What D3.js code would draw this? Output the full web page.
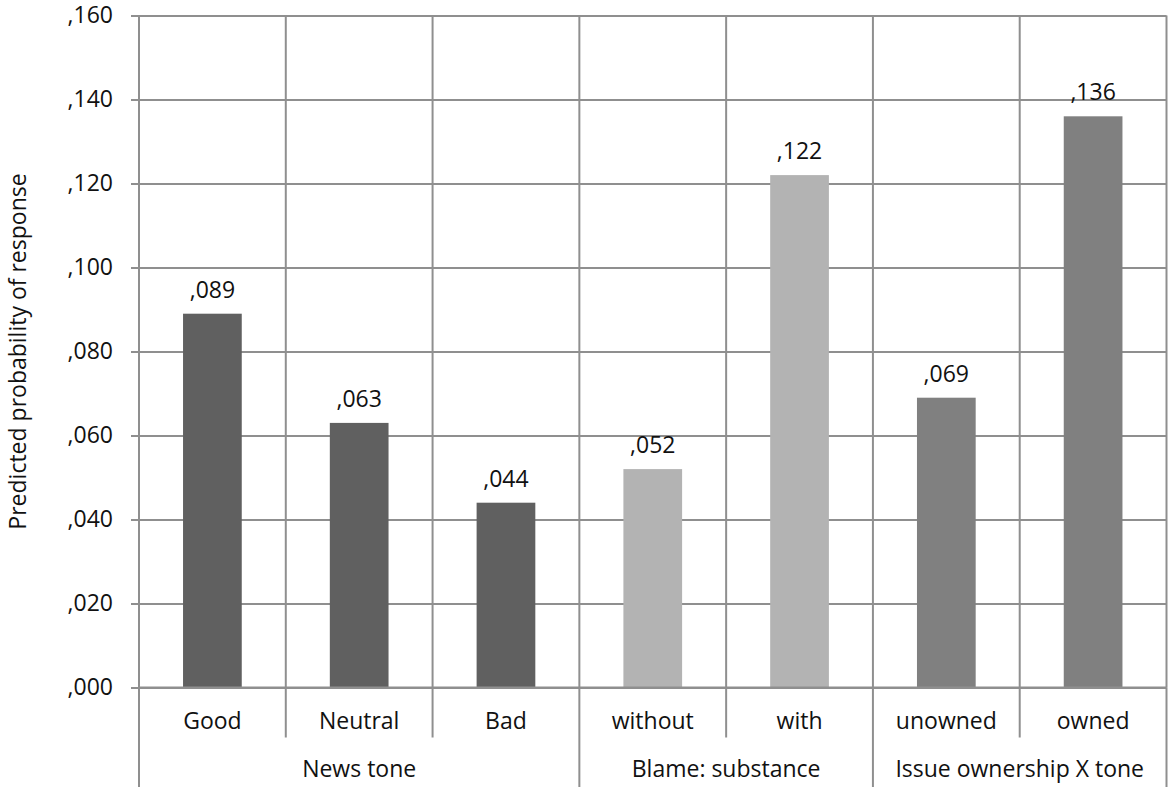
<!DOCTYPE html>
<html>
<head>
<meta charset="utf-8">
<script src="https://cdn.jsdelivr.net/npm/d3@7"></script>
<style>
  html, body { margin: 0; padding: 0; background: #fff; }
  svg { display: block; }
  text { font-family: "Open Sans", "Lato", "DejaVu Sans", sans-serif; fill: #111; }
</style>
</head>
<body>
<svg id="chart" width="1169" height="787"></svg>
<script>
// Predicted probability of response by condition
const categories = ["Good", "Neutral", "Bad", "without", "with", "unowned", "owned"];
const values = [0.089, 0.063, 0.044, 0.052, 0.122, 0.069, 0.136];
const labels = [",089", ",063", ",044", ",052", ",122", ",069", ",136"];
const groupOf = ["News tone", "News tone", "News tone", "Blame: substance", "Blame: substance", "Issue ownership X tone", "Issue ownership X tone"];
const groups = ["News tone", "Blame: substance", "Issue ownership X tone"];
const groupColors = ["#606060", "#b3b3b3", "#808080"];
const yTicks = [0, 0.02, 0.04, 0.06, 0.08, 0.10, 0.12, 0.14, 0.16];
const yTickLabels = [",000", ",020", ",040", ",060", ",080", ",100", ",120", ",140", ",160"];
const yTitle = "Predicted probability of response";

const W = 1169, H = 787;
const m = { left: 139, right: 2.5, top: 15.5, bottom: 99.5 };
const lineColor = "#8f8f8f";
const fs = 23;
const svg = d3.select("#chart");

const x = d3.scaleBand().domain(categories).range([m.left, W - m.right]).paddingInner(0).paddingOuter(0);
const y = d3.scaleLinear().domain([0, 0.16]).range([H - m.bottom, m.top]);
const color = d3.scaleOrdinal().domain(groups).range(groupColors);

// horizontal gridlines with left ticks
const yAxis = d3.axisLeft(y).tickValues(yTicks)
  .tickFormat((d, i) => yTickLabels[i])
  .tickSize(-(W - m.right - m.left)).tickPadding(26);
const gy = svg.append("g").attr("transform", `translate(${m.left},0)`).call(yAxis);
gy.select(".domain").remove();
gy.selectAll(".tick line").attr("stroke", lineColor).attr("stroke-width", 2).attr("x1", -8);
gy.selectAll(".tick text").attr("font-size", fs).style("fill", "#111");
gy.attr("font-family", null);

// vertical gridlines at category boundaries
const bounds = categories.map(c => x(c)).concat([W - m.right]);
svg.append("g").selectAll("line").data(bounds).join("line")
  .attr("x1", d => d).attr("x2", d => d)
  .attr("y1", m.top).attr("y2", y(0))
  .attr("stroke", lineColor).attr("stroke-width", 2);

// bars
const bw = x.bandwidth() * 0.4;
svg.append("g").selectAll("rect").data(values).join("rect")
  .attr("x", (d, i) => x(categories[i]) + (x.bandwidth() - bw) / 2)
  .attr("width", bw)
  .attr("y", d => y(d))
  .attr("height", d => y(0) - y(d))
  .attr("fill", (d, i) => color(groupOf[i]));

// value labels
svg.append("g").selectAll("text").data(values).join("text")
  .attr("x", (d, i) => x(categories[i]) + x.bandwidth() / 2)
  .attr("y", d => y(d) - 16)
  .attr("text-anchor", "middle")
  .attr("font-size", fs)
  .text((d, i) => labels[i]);

// category axis: two-level labels
const base = y(0);
const catSepBottom = base + 50;
svg.append("line").attr("x1", m.left).attr("x2", W - m.right)
  .attr("y1", base).attr("y2", base).attr("stroke", lineColor).attr("stroke-width", 2);

// separators between categories within a group (short) and between groups (long)
const sepData = bounds.map((b, i) => {
  const isGroupEdge = i === 0 || i === categories.length || groupOf[i] !== groupOf[i - 1];
  return { x: b, long: isGroupEdge };
});
svg.append("g").selectAll("line").data(sepData).join("line")
  .attr("x1", d => d.x).attr("x2", d => d.x)
  .attr("y1", base).attr("y2", d => d.long ? H : catSepBottom)
  .attr("stroke", lineColor).attr("stroke-width", 2);

svg.append("g").selectAll("text").data(categories).join("text")
  .attr("x", d => x(d) + x.bandwidth() / 2)
  .attr("y", base + 41)
  .attr("text-anchor", "middle")
  .attr("font-size", fs)
  .text(d => d);

const groupSpans = groups.map(g => {
  const cs = categories.filter((c, i) => groupOf[i] === g);
  return { g, x0: x(cs[0]), x1: x(cs[cs.length - 1]) + x.bandwidth() };
});
svg.append("g").selectAll("text").data(groupSpans).join("text")
  .attr("x", d => (d.x0 + d.x1) / 2)
  .attr("y", base + 89)
  .attr("text-anchor", "middle")
  .attr("font-size", fs)
  .text(d => d.g);

// y-axis title
svg.append("text")
  .attr("transform", `translate(26,${(m.top + base) / 2}) rotate(-90)`)
  .attr("text-anchor", "middle")
  .attr("font-size", fs)
  .text(yTitle);
</script>
</body>
</html>
